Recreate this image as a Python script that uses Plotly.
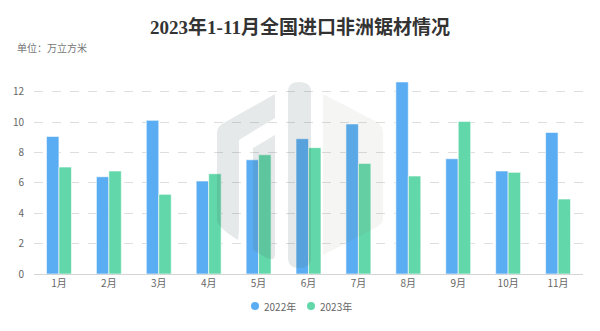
import plotly.graph_objects as go

# Monthly imports of African sawn timber, 10k cubic metres
months = ["1月", "2月", "3月", "4月", "5月", "6月", "7月", "8月", "9月", "10月", "11月"]
imports_2022 = [9.07, 6.41, 10.13, 6.13, 7.53, 8.92, 9.89, 12.66, 7.60, 6.79, 9.33]
imports_2023 = [7.05, 6.79, 5.25, 6.61, 7.86, 8.33, 7.29, 6.46, 10.06, 6.70, 4.94]
series_names = ["2022年", "2023年"]
y_ticks = [0, 2, 4, 6, 8, 10, 12]

BLUE = "#5aadf2"
GREEN = "#62d7a9"
COLORS = [BLUE, GREEN]

W, H = 600, 331
ML, MR, MT, MB = 34, 17, 79, 57
PW, PH = W - ML - MR, H - MT - MB


def px(x, y):
    """Pixel position on the page -> paper coordinates."""
    return (x - ML) / PW, (H - MB - y) / PH


def path(cmds):
    out = []
    for c in cmds:
        op, pts = c[0], c[1:]
        conv = []
        for (x, y) in pts:
            u, v = px(x, y)
            conv.append(f"{u:.4f},{v:.4f}")
        out.append(op + " " + " ".join(conv))
    return " ".join(out) + " Z"


fig = go.Figure()
for name, vals, col in zip(series_names, [imports_2022, imports_2023], COLORS):
    fig.add_trace(go.Bar(x=months, y=vals, name=name,
                         marker=dict(color=col, line=dict(color="rgba(255,255,255,0.6)", width=1))))

# faint logo watermark
left_fill = "rgba(70,100,100,0.14)"
right_fill = "rgba(120,110,90,0.07)"
logo = [
    (path([("M", (275, 94)), ("L", (222, 124)), ("Q", (217, 127), (217, 134)),
           ("L", (217, 220)), ("Q", (218, 228), (238, 240)), ("L", (239, 230)),
           ("L", (239, 140)), ("L", (275, 118))]), left_fill),
    (path([("M", (253, 148)), ("L", (275, 135)), ("L", (275, 254)),
           ("Q", (275, 262), (267, 258)), ("L", (253, 250))]), left_fill),
    (path([("M", (288, 92)), ("Q", (288, 82), (299, 82)), ("Q", (311, 82), (311, 92)),
           ("L", (311, 258)), ("Q", (311, 268), (299, 268)), ("Q", (288, 268), (288, 258))]), left_fill),
    (path([("M", (323, 94)), ("L", (377, 122)), ("Q", (383, 126), (383, 133)),
           ("L", (383, 218)), ("Q", (383, 224), (377, 227)), ("L", (323, 255))]), right_fill),
]
shapes = [dict(type="path", path=p, xref="paper", yref="paper", fillcolor=c,
               line=dict(width=0), layer="above") for p, c in logo]

# compact legend below the axis: round dot + series name
annotations = [dict(text="单位：万立方米", xref="paper", yref="paper",
                    x=px(15, 48)[0], y=px(15, 48)[1], xanchor="left", yanchor="middle",
                    showarrow=False, font=dict(size=10, color="#777"))]
LEG_Y, LEG_X0, LEG_STEP, R = 306, 255, 56, 4
for i, (name, col) in enumerate(zip(series_names, COLORS)):
    cx = LEG_X0 + i * LEG_STEP
    x0, y0 = px(cx - R, LEG_Y + R)
    x1, y1 = px(cx + R, LEG_Y - R)
    shapes.append(dict(type="circle", xref="paper", yref="paper", x0=x0, y0=y0, x1=x1, y1=y1,
                       fillcolor=col, line=dict(width=0)))
    tx, ty = px(cx + 7, LEG_Y)
    annotations.append(dict(text=name, xref="paper", yref="paper", x=tx, y=ty,
                            xanchor="left", yanchor="middle", showarrow=False,
                            font=dict(size=10, color="#666")))

fig.update_layout(
    width=W, height=H,
    margin=dict(l=ML, r=MR, t=MT, b=MB),
    paper_bgcolor="white", plot_bgcolor="white",
    barmode="group", bargap=0.5, bargroupgap=0,
    showlegend=False,
    font=dict(family="Noto Sans CJK SC, Noto Sans, sans-serif", size=10, color="#666"),
    title=dict(text="<b>2023年1-11月全国进口非洲锯材情况</b>",
               font=dict(family="Liberation Serif, Noto Sans CJK SC, serif", size=19, color="#333"),
               x=0.5, xanchor="center", xref="container", y=1 - 27 / H, yanchor="middle"),
    xaxis=dict(showline=True, linecolor="#d4d4d4", linewidth=1, showgrid=False,
               ticks="", tickfont=dict(size=10, color="#666"), fixedrange=True),
    yaxis=dict(range=[0, PH / 15.17], tickvals=y_ticks, showline=False, zeroline=False,
               showgrid=True, gridcolor="#dedede", griddash="dash", gridwidth=1,
               ticks="outside", ticklen=7, tickcolor="rgba(0,0,0,0)",
               tickfont=dict(size=10, color="#666"), fixedrange=True),
    shapes=shapes,
    annotations=annotations,
)

fig.write_html("out.html")
